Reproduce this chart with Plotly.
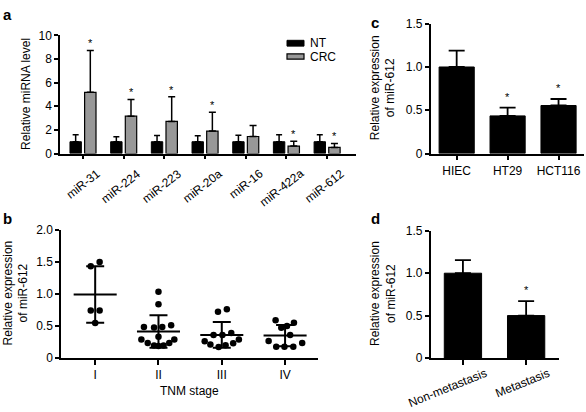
import math
import plotly.graph_objects as go
import numpy as np

# ---------------- data ----------------
# Panel a
mirnas = ["miR-31", "miR-224", "miR-223", "miR-20a", "miR-16", "miR-422a", "miR-612"]
nt_vals = [1.0, 1.0, 1.0, 1.0, 1.0, 1.0, 1.0]
nt_err = [0.58, 0.42, 0.53, 0.50, 0.55, 0.58, 0.58]
crc_vals = [5.18, 3.16, 2.72, 1.90, 1.44, 0.63, 0.52]
crc_err = [3.54, 1.42, 2.08, 1.59, 0.93, 0.41, 0.33]
crc_sig = [True, True, True, True, False, True, True]

# Panel b
stages = ["I", "II", "III", "IV"]
stage_I = [1.50, 1.43, 0.74, 0.74, 0.545]
stage_II = [1.035, 0.84, 0.485, 0.475, 0.485, 0.51, 0.33, 0.29, 0.29, 0.235, 0.195, 0.185, 0.195, 0.235]
stage_III = [0.72, 0.76, 0.36, 0.36, 0.39, 0.26, 0.29, 0.23, 0.21, 0.17, 0.20]
stage_IV = [0.59, 0.55, 0.47, 0.50, 0.36, 0.265, 0.235, 0.175, 0.175, 0.175]
jit_I = [0.07, -0.07, -0.07, 0.07, 0.0]
jit_II = [0.0, 0.0, -0.23, -0.07, 0.06, 0.2, 0.0, -0.27, 0.25, -0.17, -0.07, 0.0, 0.08, 0.17]
jit_III = [-0.06, 0.08, -0.13, 0.01, 0.15, -0.27, 0.27, 0.18, -0.18, -0.05, 0.06]
jit_IV = [-0.15, 0.14, -0.06, 0.03, 0.08, -0.26, 0.27, -0.14, -0.01, 0.13]

# Panel c
cells = ["HIEC", "HT29", "HCT116"]
cell_vals = [1.0, 0.435, 0.555]
cell_err = [0.19, 0.095, 0.075]
cell_sig = [False, True, True]

# Panel d
met_groups = ["Non-metastasis", "Metastasis"]
met_vals = [1.0, 0.50]
met_err = [0.155, 0.17]
met_sig = [False, True]

# ---------------- helpers ----------------
W, H = 586, 412
def px_x(p):
    return p / W
def px_y(p):
    return 1 - p / H

FONT = "Liberation Sans, Arial, Helvetica, sans-serif"
GRAY = "#989898"

# approximate Arial advance widths (em) for rotated-label placement
_CW = {"m": .833, "i": .222, "R": .722, "-": .333, "a": .556, "N": .722, "o": .556,
       "n": .556, "e": .556, "t": .278, "s": .5, "M": .833}
def text_w(s, size):
    return sum(_CW.get(c, .556) for c in s) * size

fig = go.Figure()

# ---- panel a ----
xa = list(range(len(mirnas)))
fig.add_trace(go.Bar(
    x=xa, y=nt_vals, width=0.28, offset=-0.32, xaxis="x", yaxis="y",
    marker=dict(color="black", line=dict(color="black", width=1)),
    error_y=dict(type="data", symmetric=False, array=nt_err, arrayminus=[0] * len(nt_err),
                 color="black", thickness=1.5, width=3),
    name="NT"))
fig.add_trace(go.Bar(
    x=xa, y=crc_vals, width=0.28, offset=0.04, xaxis="x", yaxis="y",
    marker=dict(color=GRAY, line=dict(color="black", width=1.2)),
    error_y=dict(type="data", symmetric=False, array=crc_err, arrayminus=[0] * len(crc_err),
                 color="black", thickness=1.5, width=3.5),
    name="CRC"))

# ---- panel b ----
groups_b = [stage_I, stage_II, stage_III, stage_IV]
jits_b = [jit_I, jit_II, jit_III, jit_IV]
bx, by = [], []
for i, (vals, jit) in enumerate(zip(groups_b, jits_b)):
    bx += [i + j for j in jit]
    by += vals
fig.add_trace(go.Scatter(
    x=bx, y=by, mode="markers", xaxis="x2", yaxis="y2",
    marker=dict(color="black", size=6.5), name="points"))
means = [float(np.mean(v)) for v in groups_b]
sds = [float(np.std(v, ddof=1)) for v in groups_b]
fig.add_trace(go.Scatter(
    x=list(range(len(stages))), y=means, mode="markers", xaxis="x2", yaxis="y2",
    marker=dict(color="rgba(0,0,0,0)", size=1),
    error_x=dict(type="data", array=[0.34] * len(stages), color="black", thickness=2, width=0),
    error_y=dict(type="data", array=sds, color="black", thickness=2, width=9),
    name="mean"))

# ---- panel c ----
xc = list(range(len(cells)))
fig.add_trace(go.Bar(
    x=xc, y=cell_vals, width=0.69, xaxis="x3", yaxis="y3",
    marker=dict(color="black", line=dict(color="black", width=1)),
    error_y=dict(type="data", symmetric=False, array=cell_err, arrayminus=[0] * len(cell_err),
                 color="black", thickness=1.8, width=8)))

# ---- panel d ----
xd = list(range(len(met_groups)))
fig.add_trace(go.Bar(
    x=xd, y=met_vals, width=0.59, xaxis="x4", yaxis="y4",
    marker=dict(color="black", line=dict(color="black", width=1)),
    error_y=dict(type="data", symmetric=False, array=met_err, arrayminus=[0] * len(met_err),
                 color="black", thickness=1.8, width=8)))

# ---------------- axes ----------------
def xax(domain, rng, **kw):
    d = dict(domain=domain, range=rng, showline=True, linecolor="black", linewidth=1.5,
             ticks="outside", ticklen=4, tickwidth=1.5, tickcolor="black",
             showgrid=False, zeroline=False, fixedrange=True,
             tickfont=dict(family=FONT, size=12, color="black"))
    d.update(kw)
    return d

def yax(domain, rng, tv, tt, anchor):
    return dict(domain=domain, range=rng, showline=True, linecolor="black", linewidth=1.5,
                ticks="outside", ticklen=4, tickwidth=1.5, tickcolor="black",
                showgrid=False, zeroline=False, fixedrange=True, anchor=anchor,
                tickvals=tv, ticktext=tt,
                tickfont=dict(family=FONT, size=12, color="black"))

dom_a_x = [px_x(60), px_x(356)]
dom_a_y = [px_y(151.7), px_y(29.3)]
dom_b_x = [px_x(61), px_x(318)]
dom_b_y = [px_y(363.3), px_y(230.7)]
dom_c_x = [px_x(430.7), px_x(584)]
dom_c_y = [px_y(151.7), px_y(17.3)]
dom_d_x = [px_x(430.7), px_x(559)]
dom_d_y = [px_y(363.3), px_y(231.7)]

fig.update_layout(
    width=W, height=H, margin=dict(l=0, r=0, t=0, b=0),
    paper_bgcolor="white", plot_bgcolor="white", showlegend=False,
    font=dict(family=FONT, size=12, color="black"),
    xaxis=xax(dom_a_x, [-0.565, 6.71], anchor="y", tickvals=xa, showticklabels=False),
    yaxis=yax(dom_a_y, [0, 10], [0, 2, 4, 6, 8, 10], ["0", "2", "4", "6", "8", "10"], "x"),
    xaxis2=xax(dom_b_x, [-0.54, 3.52], anchor="y2", tickvals=list(range(len(stages))),
               ticktext=stages, ticklen=5),
    yaxis2=yax(dom_b_y, [0, 2.0], [0, 0.5, 1.0, 1.5, 2.0], ["0", "0.5", "1.0", "1.5", "2.0"], "x2"),
    xaxis3=xax(dom_c_x, [-0.51, 2.5], anchor="y3", tickvals=xc, ticktext=cells, ticklen=5),
    yaxis3=yax(dom_c_y, [0, 1.5], [0, 0.5, 1.0, 1.5], ["0", "0.5", "1.0", "1.5"], "x3"),
    xaxis4=xax(dom_d_x, [-0.51, 1.52], anchor="y4", tickvals=xd, showticklabels=False, ticklen=5),
    yaxis4=yax(dom_d_y, [0, 1.5], [0, 0.5, 1.0, 1.5], ["0", "0.5", "1.0", "1.5"], "x4"),
)

ann = []
# panel letters
for letter, (lx, ly) in zip("abcd", [(1, 8), (1, 219), (369, 16), (369, 219)]):
    ann.append(dict(text="<b>%s</b>" % letter, x=px_x(lx), y=px_y(ly), xref="paper", yref="paper",
                    xanchor="left", yanchor="middle", showarrow=False,
                    font=dict(family=FONT, size=15, color="black")))

# y titles
def ytitle(text, cx, cy):
    return dict(text=text, x=px_x(cx), y=px_y(cy), xref="paper", yref="paper",
                xanchor="center", yanchor="middle", textangle=-90, showarrow=False,
                font=dict(family=FONT, size=12, color="black"))
ann.append(ytitle("Relative miRNA level", 26, 90))
ann.append(ytitle("Relative expression<br>of miR-612", 15.5, 296))
ann.append(ytitle("Relative expression<br>of miR-612", 383, 84))
ann.append(ytitle("Relative expression<br>of miR-612", 383, 297))

# x title panel b
ann.append(dict(text="TNM stage", x=(dom_b_x[0] + dom_b_x[1]) / 2, y=px_y(398), xref="paper", yref="paper",
                xanchor="center", yanchor="middle", showarrow=False,
                font=dict(family=FONT, size=12, color="black")))

# rotated tick labels: right end at tick+dx, top at axis+dy, centred placement
def rot_label(text, x, xref, ybase, angle, dx, dy, size=12, h=11):
    L = text_w(text, size)
    a = math.radians(angle)
    hor = L * math.cos(a) + h * math.sin(a)
    ver = L * math.sin(a) + h * math.cos(a)
    return dict(text=text, x=x, xref=xref, y=ybase, yref="paper", xanchor="center", yanchor="middle",
                xshift=dx - hor / 2, yshift=-(dy + ver / 2), textangle=-angle, showarrow=False,
                font=dict(family=FONT, size=size, color="black"))

for i, m in enumerate(mirnas):
    ann.append(rot_label(m, i, "x", dom_a_y[0], 38, 19, 14.5))
for i, m in enumerate(met_groups):
    ann.append(rot_label(m, i, "x4", dom_d_y[0], 22, 25, 9.5))

# significance stars
def star(x, y, xr, yr, ys):
    return dict(text="*", x=x, y=y, xref=xr, yref=yr, xanchor="center", yanchor="middle",
                yshift=ys, showarrow=False, font=dict(family=FONT, size=11, color="black"))
for i, s in enumerate(crc_sig):
    if s:
        ann.append(star(i + 0.18, crc_vals[i] + crc_err[i], "x", "y", 7))
for i, s in enumerate(cell_sig):
    if s:
        ann.append(star(i, cell_vals[i] + cell_err[i], "x3", "y3", 11))
for i, s in enumerate(met_sig):
    if s:
        ann.append(star(i, met_vals[i] + met_err[i], "x4", "y4", 11))

# legend text panel a
ann.append(dict(text="NT", x=px_x(308), y=px_y(37.5), xref="paper", yref="paper", xanchor="left",
                yanchor="middle", showarrow=False, font=dict(family=FONT, size=12, color="black")))
ann.append(dict(text="CRC", x=px_x(308), y=px_y(51.5), xref="paper", yref="paper", xanchor="left",
                yanchor="middle", showarrow=False, font=dict(family=FONT, size=12, color="black")))

shapes = [
    dict(type="rect", xref="paper", yref="paper", x0=px_x(287), x1=px_x(304), y0=px_y(40.5), y1=px_y(34.5),
         fillcolor="black", line=dict(color="black", width=1)),
    dict(type="rect", xref="paper", yref="paper", x0=px_x(287), x1=px_x(304), y0=px_y(54), y1=px_y(48.5),
         fillcolor=GRAY, line=dict(color="black", width=1.2)),
]

fig.update_layout(annotations=ann, shapes=shapes)
fig.write_html("out.html", config={"displayModeBar": False},
               post_script="document.body.style.margin='0px';document.body.style.overflow='hidden';")
